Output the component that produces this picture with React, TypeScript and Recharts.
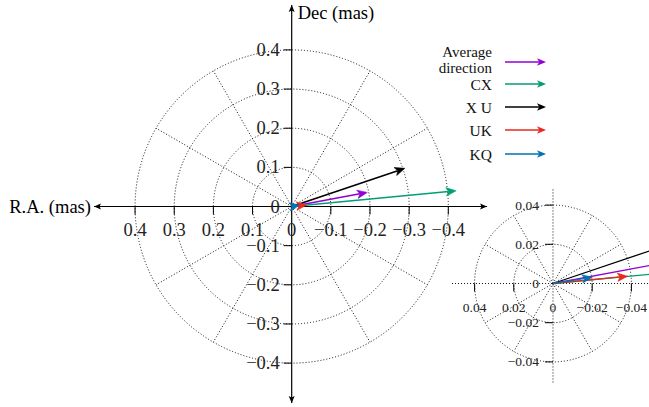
import { ScatterChart, Scatter, XAxis, YAxis, ReferenceLine } from 'recharts'

const FONT = '"Liberation Serif", "DejaVu Serif", serif'

// arrow tips in mas (R.A., Dec), all arrows start at the origin
const seriesNames = ['Average direction', 'CX', 'X U', 'UK', 'KQ']
const seriesColors = ['#9400d3', '#009e73', '#000000', '#e8291c', '#0072b2']
const tipRA = [-0.193, -0.42, -0.289, -0.038, -0.02]
const tipDec = [0.036, 0.04, 0.0976, 0.0037, 0.0032]

// main panel grid
const mainRings = [0.1, 0.2, 0.3, 0.4]
const mainTicks = [0.4, 0.3, 0.2, 0.1, 0, -0.1, -0.2, -0.3, -0.4]
const mainTickLabels = ['0.4', '0.3', '0.2', '0.1', '0', '\u22120.1', '\u22120.2', '\u22120.3', '\u22120.4']

// zoomed inset grid
const insetRings = [0.02, 0.04]
const insetTicks = [0.04, 0.02, 0, -0.02, -0.04]
const insetTickLabels = ['0.04', '0.02', '0', '\u22120.02', '\u22120.04']

const spokeAngles = [30, 60, 120, 150, 210, 240, 300, 330]

const tips = tipRA.map((ra, i) => ({ ra, dec: tipDec[i], name: seriesNames[i] }))

const dotted = { stroke: '#111', strokeWidth: 1, strokeDasharray: '1 2', fill: 'none' }

const ringShape = (p: any) => <circle cx={p.x1} cy={p.y1} r={Math.abs(p.x2 - p.x1)} {...dotted} />
const dottedLine = (p: any) => <line x1={p.x1} y1={p.y1} x2={p.x2} y2={p.y2} {...dotted} />

const head = (x1: number, y1: number, x2: number, y2: number, len: number, half: number, notch: number) => {
      const a = Math.atan2(y2 - y1, x2 - x1)
      const c = Math.cos(a)
      const s = Math.sin(a)
      const bx = x2 - len * c
      const by = y2 - len * s
      const nx = x2 - len * notch * c
      const ny = y2 - len * notch * s
      const d = `M${x2},${y2} L${bx + half * s},${by - half * c} L${nx},${ny} L${bx - half * s},${by + half * c} Z`
      return { d, nx, ny }
}

const makeArrow = (color: string, w: number, len: number) => (p: any) => {
      const h = head(p.x1, p.y1, p.x2, p.y2, len, len * 0.42, 0.75)
      return (
            <g>
                  <line x1={p.x1} y1={p.y1} x2={h.nx} y2={h.ny} stroke={color} strokeWidth={w} />
                  <path d={h.d} fill={color} stroke={color} strokeWidth={0.6} />
            </g>
      )
}

const makeXTick = (label: string, size: number, off: number) => (p: any) => (
      <g>
            {label !== '0' && <line x1={p.x1} y1={p.y1} x2={p.x1} y2={p.y1 + 8} stroke="#000" strokeWidth={1} />}
            <text x={p.x1} y={p.y1 + off} textAnchor="middle" dominantBaseline="central" fontFamily={FONT} fontSize={size} fill="#222">
                  {label}
            </text>
      </g>
)

const makeYTick = (label: string, size: number, off: number) => (p: any) => (
      <g>
            {label !== '0' && <line x1={p.x1} y1={p.y1} x2={p.x1 - 8} y2={p.y1} stroke="#000" strokeWidth={1} />}
            <text x={p.x1 - off} y={p.y1} textAnchor="end" dominantBaseline="central" fontFamily={FONT} fontSize={size} fill="#222">
                  {label}
            </text>
      </g>
)

const xAxisShape = (p: any) => {
      const a = head(p.x2, p.y2, p.x1, p.y1, 7, 3, 0.8)
      const b = head(p.x1, p.y1, p.x2, p.y2, 7, 3, 0.8)
      return (
            <g>
                  <line x1={p.x1} y1={p.y1} x2={p.x2} y2={p.y2} stroke="#000" strokeWidth={1.2} />
                  <path d={a.d} fill="#000" />
                  <path d={b.d} fill="#000" />
                  <text x={p.x1 - 3} y={p.y1} textAnchor="end" dominantBaseline="central" fontFamily={FONT} fontSize={18.5} fill="#000">
                        R.A. (mas)
                  </text>
            </g>
      )
}

const yAxisShape = (p: any) => {
      const a = head(p.x2, p.y2, p.x1, p.y1, 7, 3, 0.8)
      const b = head(p.x1, p.y1, p.x2, p.y2, 7, 3, 0.8)
      return (
            <g>
                  <line x1={p.x1} y1={p.y1} x2={p.x2} y2={p.y2} stroke="#000" strokeWidth={1.2} />
                  <path d={a.d} fill="#000" />
                  <path d={b.d} fill="#000" />
                  <text x={p.x2 + 6} y={p.y2 + 8} textAnchor="start" dominantBaseline="central" fontFamily={FONT} fontSize={18.5} fill="#000">
                        Dec (mas)
                  </text>
            </g>
      )
}

const spokes = (r: number) =>
      spokeAngles.map((deg) => [
            { x: 0, y: 0 },
            { x: r * Math.cos((deg * Math.PI) / 180), y: r * Math.sin((deg * Math.PI) / 180) }
      ])

const Legend = () => {
      const rowY = [62, 84, 107, 130, 154]
      return (
            <svg width={649} height={407} style={{ position: 'absolute', left: 0, top: 0, pointerEvents: 'none' }}>
                  {seriesNames.map((n, i) => {
                        const y = rowY[i]
                        const h = head(505, y, 546, y, 9, 3.8, 0.75)
                        return (
                              <g key={n}>
                                    {i === 0 ? (
                                          <>
                                                <text x={492} y={57} textAnchor="end" fontFamily={FONT} fontSize={15} fill="#111">Average</text>
                                                <text x={492} y={73} textAnchor="end" fontFamily={FONT} fontSize={15} fill="#111">direction</text>
                                          </>
                                    ) : (
                                          <text x={492} y={y} textAnchor="end" dominantBaseline="central" fontFamily={FONT} fontSize={15.5} fill="#111">
                                                {n}
                                          </text>
                                    )}
                                    <line x1={505} y1={y} x2={h.nx} y2={h.ny} stroke={seriesColors[i]} strokeWidth={1.6} />
                                    <path d={h.d} fill={seriesColors[i]} />
                              </g>
                        )
                  })}
            </svg>
      )
}

export default function App() {
      return (
            <div style={{ position: 'absolute', left: 0, top: 0, width: 649, height: 407 }}>
                  {/* main panel: 391.5 px per mas, origin at (291.7, 206.5) */}
                  <ScatterChart width={649} height={407} margin={{ top: 0, right: 0, bottom: 0, left: 0 }} style={{ position: 'absolute', left: 0, top: 0 }}>
                        <XAxis type="number" dataKey="ra" domain={[-0.9126, 0.745]} reversed hide allowDataOverflow />
                        <YAxis type="number" dataKey="dec" domain={[-0.5121, 0.5275]} hide allowDataOverflow />
                        {mainRings.map((r) => (
                              <ReferenceLine key={`ring-${r}`} segment={[{ x: 0, y: 0 }, { x: r, y: 0 }]} ifOverflow="visible" shape={ringShape} />
                        ))}
                        {spokes(0.4).map((s, i) => (
                              <ReferenceLine key={`spoke-${i}`} segment={s} ifOverflow="visible" shape={dottedLine} />
                        ))}
                        <ReferenceLine segment={[{ x: 0.505, y: 0 }, { x: -0.499, y: 0 }]} ifOverflow="visible" shape={xAxisShape} />
                        <ReferenceLine segment={[{ x: 0, y: -0.502 }, { x: 0, y: 0.515 }]} ifOverflow="visible" shape={yAxisShape} />
                        {mainTicks.map((t, i) => (
                              <ReferenceLine key={`xt-${i}`} segment={[{ x: t, y: 0 }, { x: t, y: 0 }]} ifOverflow="visible" shape={makeXTick(mainTickLabels[i], 18.5, 23)} />
                        ))}
                        {mainTicks.map((t, i) => (
                              <ReferenceLine key={`yt-${i}`} segment={[{ x: 0, y: t }, { x: 0, y: t }]} ifOverflow="visible" shape={makeYTick(mainTickLabels[i], 18.5, 12)} />
                        ))}
                        {tips.map((d, i) => (
                              <ReferenceLine key={`arr-${i}`} segment={[{ x: 0, y: 0 }, { x: d.ra, y: d.dec }]} ifOverflow="visible" shape={makeArrow(seriesColors[i], 1.6, 10)} />
                        ))}
                        <Scatter data={tips} shape={() => <g />} isAnimationActive={false} />
                  </ScatterChart>

                  {/* zoomed inset: 1960 px per mas, origin at (553, 283.5) */}
                  <ScatterChart width={209} height={205} margin={{ top: 0, right: 0, bottom: 0, left: 0 }} style={{ position: 'absolute', left: 440, top: 185 }}>
                        <XAxis type="number" dataKey="ra" domain={[-0.04898, 0.05765]} reversed hide allowDataOverflow />
                        <YAxis type="number" dataKey="dec" domain={[-0.05434, 0.05026]} hide allowDataOverflow />
                        {insetRings.map((r) => (
                              <ReferenceLine key={`iring-${r}`} segment={[{ x: 0, y: 0 }, { x: r, y: 0 }]} ifOverflow="visible" shape={ringShape} />
                        ))}
                        {spokes(0.04).map((s, i) => (
                              <ReferenceLine key={`ispoke-${i}`} segment={s} ifOverflow="visible" shape={dottedLine} />
                        ))}
                        <ReferenceLine segment={[{ x: 0.0515, y: 0 }, { x: -0.06, y: 0 }]} ifOverflow="visible" shape={dottedLine} />
                        <ReferenceLine segment={[{ x: 0, y: 0.048 }, { x: 0, y: -0.0505 }]} ifOverflow="visible" shape={dottedLine} />
                        {insetTicks.map((t, i) => (
                              <ReferenceLine key={`ixt-${i}`} segment={[{ x: t, y: 0 }, { x: t, y: 0 }]} ifOverflow="visible" shape={makeXTick(insetTickLabels[i], 13.5, 24)} />
                        ))}
                        {insetTicks.map((t, i) => (
                              <ReferenceLine key={`iyt-${i}`} segment={[{ x: 0, y: t }, { x: 0, y: t }]} ifOverflow="visible" shape={makeYTick(insetTickLabels[i], 13.5, 14)} />
                        ))}
                        {tips.map((d, i) => (
                              <ReferenceLine key={`iarr-${i}`} segment={[{ x: 0, y: 0 }, { x: d.ra, y: d.dec }]} ifOverflow="visible" shape={makeArrow(seriesColors[i], 1.3, 10)} />
                        ))}
                        <Scatter data={tips} shape={() => <g />} isAnimationActive={false} />
                  </ScatterChart>

                  <Legend />
            </div>
      )
}
